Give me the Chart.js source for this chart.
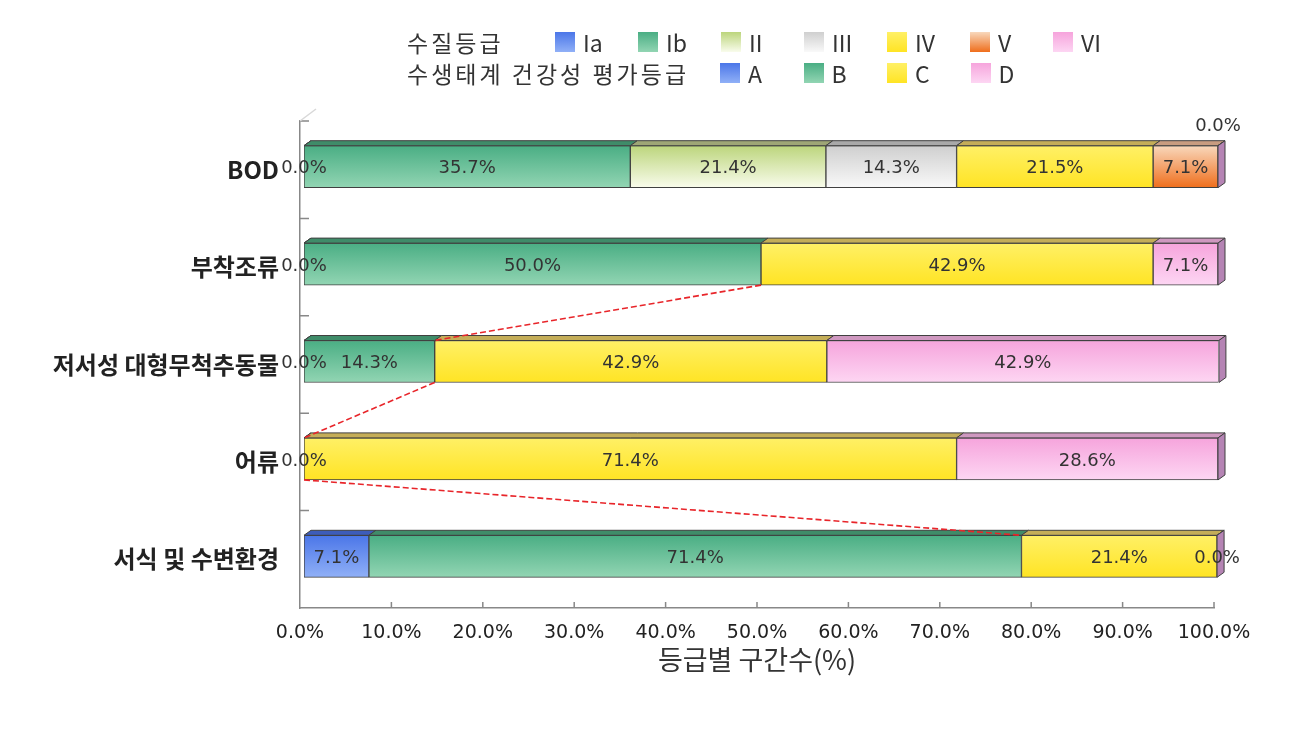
<!DOCTYPE html>
<html>
<head>
<meta charset="utf-8">
<script src="https://cdn.jsdelivr.net/npm/chart.js@4.4.1/dist/chart.umd.min.js"></script>
<style>
  body { margin: 0; background: #fff; }
  #wrap { position: relative; width: 1310px; height: 731px; }
  #myChart { position: absolute; left: 0; top: 0; }
  .lg { position: absolute; font-family: "Noto Sans CJK KR", sans-serif; font-size: 23px; color: #333; line-height: 24px; white-space: nowrap; }
  .lg.head { letter-spacing: 3px; }
  .sw { position: absolute; width: 20px; height: 20px; }
</style>
</head>
<body>
<div id="wrap">
  <canvas id="myChart" width="1310" height="731"></canvas>
  <div id="legend"></div>
</div>
<script>
// categories (rows, top to bottom)
var categories = ['BOD', '부착조류', '저서성 대형무척추동물', '어류', '서식 및 수변환경'];
// which grading the row uses: water quality grade or ecosystem health grade
var rowGroup = ['water', 'eco', 'eco', 'eco', 'eco'];

// share of sections per grade (%)
var gradeIaA = [0.0, 0.0, 0.0, 0.0, 7.1];
var gradeIbB = [35.7, 50.0, 14.3, null, 71.4];
var gradeII = [21.4, null, null, null, null];
var gradeIII = [14.3, null, null, null, null];
var gradeIVC = [21.5, 42.9, 42.9, 71.4, 21.4];
var gradeV = [7.1, null, null, null, null];
var gradeVID = [0.0, 7.1, 42.9, 28.6, 0.0];

var seriesNames = ['Ia / A', 'Ib / B', 'II', 'III', 'IV / C', 'V', 'VI / D'];
var waterLegend = ['Ia', 'Ib', 'II', 'III', 'IV', 'V', 'VI'];
var ecoLegend = ['A', 'B', 'C', 'D'];
var ecoSeries = [0, 1, 4, 6];   // series index used by A, B, C, D
var xTicks = [0, 10, 20, 30, 40, 50, 60, 70, 80, 90, 100];

// colours
var faceTop = ['#4b76e8', '#4aae84', '#bcd57c', '#cfcfcf', '#fff066', '#f8d8bc', '#f6a4dc'];
var faceBottom = ['#90b0f7', '#92d5b3', '#f9fcec', '#f9f9f9', '#ffe424', '#ef6e1c', '#fdd6f3'];
var lidColor = ['#3d5cb9', '#3f8c69', '#9ea676', '#a9a9a9', '#c4ad58', '#c89c80', '#cf98c0'];
var sideColor = ['#3550a8', '#357858', '#8c9868', '#9a9a9a', '#c0a848', '#b07050', '#b584b4'];

var BAR = 42, DX = 7, DY = 5, SHIFT_X = 4, SHIFT_Y = -3;

// legend (html)
function addLegend() {
    var lg = document.getElementById('legend');
    var html = '';
    html += '<div class="lg head" style="left:407px;top:30px">수질등급</div>';
    html += '<div class="lg head" style="left:407px;top:61px">수생태계 건강성 평가등급</div>';
    function item(i, x, top, text) {
        return '<div class="sw" style="left:' + x + 'px;top:' + (top + 2) + 'px;background:linear-gradient(' +
            faceTop[i] + ',' + faceBottom[i] + ')"></div>' +
            '<div class="lg" style="left:' + (x + 28) + 'px;top:' + top + 'px">' + text + '</div>';
    }
    for (var i = 0; i < waterLegend.length; i++) {
        html += item(i, 555 + i * 83, 30, waterLegend[i]);
    }
    for (var j = 0; j < ecoLegend.length; j++) {
        html += item(ecoSeries[j], 720 + j * 83.5, 61, ecoLegend[j]);
    }
    lg.innerHTML = html;
}
addLegend();

function faceFill(i) {
    return function (c) {
        var ys = c.chart.scales.y;
        if (!ys || c.dataIndex === undefined) return faceBottom[i];
        var yc = ys.getPixelForValue(c.dataIndex);
        if (!isFinite(yc)) return faceBottom[i];
        var g = c.chart.ctx.createLinearGradient(0, yc - BAR / 2, 0, yc + BAR / 2);
        g.addColorStop(0, faceTop[i]);
        g.addColorStop(1, faceBottom[i]);
        return g;
    };
}

var allSeries = [gradeIaA, gradeIbB, gradeII, gradeIII, gradeIVC, gradeV, gradeVID];
var datasets = [];
for (var i = 0; i < allSeries.length; i++) {
    datasets.push({
        label: seriesNames[i],
        data: allSeries[i],
        backgroundColor: faceFill(i),
        borderColor: '#404040',
        borderWidth: 1,
        borderSkipped: false,
        barThickness: BAR
    });
}

function fmt(v) { return v.toFixed(1) + '%'; }

// draws the 3d lids, side faces, series lines and value labels
var bar3d = {
    id: 'bar3d',
    beforeDatasetsDraw: function (chart) {
        chart.ctx.save();
        chart.ctx.translate(SHIFT_X, SHIFT_Y);
    },
    afterDatasetsDraw: function (chart) {
        var ctx = chart.ctx;
        var xs = chart.scales.x;
        ctx.lineWidth = 1;
        ctx.strokeStyle = '#404040';
        for (var r = 0; r < categories.length; r++) {
            var lastEnd = null, lastSeries = 0, top = 0, bottom = 0;
            for (var d = 0; d < datasets.length; d++) {
                var v = allSeries[d][r];
                if (v === null) continue;
                var el = chart.getDatasetMeta(d).data[r];
                top = el.y - BAR / 2;
                bottom = el.y + BAR / 2;
                ctx.beginPath();
                ctx.moveTo(el.base, top);
                ctx.lineTo(el.base + DX, top - DY);
                ctx.lineTo(el.x + DX, top - DY);
                ctx.lineTo(el.x, top);
                ctx.closePath();
                ctx.fillStyle = lidColor[d];
                ctx.fill();
                ctx.stroke();
                lastEnd = el.x;
                lastSeries = d;
            }
            if (lastEnd !== null) {
                ctx.beginPath();
                ctx.moveTo(lastEnd, top);
                ctx.lineTo(lastEnd + DX, top - DY);
                ctx.lineTo(lastEnd + DX, bottom - DY);
                ctx.lineTo(lastEnd, bottom);
                ctx.closePath();
                ctx.fillStyle = sideColor[lastSeries];
                ctx.fill();
                ctx.stroke();
            }
        }

        // series lines at the end of the B grade, between rows of the eco group
        ctx.save();
        ctx.strokeStyle = '#e8252a';
        ctx.lineWidth = 1.6;
        ctx.setLineDash([6, 3]);
        for (var k = 0; k < categories.length - 1; k++) {
            if (rowGroup[k] !== 'eco' || rowGroup[k + 1] !== 'eco') continue;
            var e1 = (gradeIaA[k] || 0) + (gradeIbB[k] || 0);
            var e2 = (gradeIaA[k + 1] || 0) + (gradeIbB[k + 1] || 0);
            var y1 = chart.scales.y.getPixelForValue(k) + BAR / 2;
            var y2 = chart.scales.y.getPixelForValue(k + 1) - BAR / 2;
            ctx.beginPath();
            ctx.moveTo(xs.getPixelForValue(e1), y1);
            ctx.lineTo(xs.getPixelForValue(e2), y2);
            ctx.stroke();
        }
        ctx.restore();

        // value labels
        var lift = chart.options.plugins.bar3d.lift;
        ctx.font = '18px "DejaVu Sans", sans-serif';
        ctx.fillStyle = '#333';
        ctx.textAlign = 'center';
        ctx.textBaseline = 'middle';
        for (var d2 = 0; d2 < datasets.length; d2++) {
            for (var r2 = 0; r2 < categories.length; r2++) {
                var v2 = allSeries[d2][r2];
                if (v2 === null) continue;
                var el2 = chart.getDatasetMeta(d2).data[r2];
                var off = lift[d2 + '-' + r2] || [0, 0];
                ctx.fillText(fmt(v2), (el2.base + el2.x) / 2 + off[0], el2.y + 2 + off[1]);
            }
        }
        ctx.restore();
    },
    afterDraw: function (chart) {
        var ctx = chart.ctx;
        var a = chart.chartArea;
        var ys = chart.scales.y, xs = chart.scales.x;
        ctx.save();
        ctx.strokeStyle = '#888';
        ctx.lineWidth = 1.5;
        ctx.beginPath();
        // inner tick marks on the category axis
        for (var i = 0; i <= categories.length - 1; i++) {
            var yb = i === 0 ? a.top : (ys.getPixelForValue(i - 1) + ys.getPixelForValue(i)) / 2;
            ctx.moveTo(a.left, yb);
            ctx.lineTo(a.left + 9, yb);
        }
        // inner tick marks on the value axis
        for (var t = 1; t < xTicks.length; t++) {
            var xp = xs.getPixelForValue(xTicks[t]);
            ctx.moveTo(xp, a.bottom);
            ctx.lineTo(xp, a.bottom - 6);
        }
        ctx.stroke();
        ctx.strokeStyle = '#d8d8d8';
        ctx.beginPath();
        ctx.moveTo(a.left, a.top);
        ctx.lineTo(a.left + 16, a.top - 12);
        ctx.stroke();
        ctx.restore();
    }
};

var myChart = new Chart(document.getElementById('myChart'), {
    type: 'bar',
    data: { labels: categories, datasets: datasets },
    options: {
        indexAxis: 'y',
        responsive: false,
        animation: false,
        layout: { padding: { top: 121, right: 96, left: 0, bottom: 0 } },
        plugins: {
            legend: { display: false },
            tooltip: { enabled: false },
            bar3d: { lift: { '6-0': [0, -42] } }
        },
        scales: {
            x: {
                stacked: true,
                min: 0,
                max: 100,
                afterBuildTicks: function (s) {
                    s.ticks = xTicks.map(function (v) { return { value: v }; });
                },
                afterFit: function (s) { s.height = 123; },
                grid: { display: false, drawTicks: false },
                border: { display: true, color: '#888', width: 1.5 },
                ticks: {
                    padding: 14,
                    color: '#222',
                    font: { family: '"DejaVu Sans", sans-serif', size: 19 },
                    callback: function (v) { return fmt(v); }
                },
                title: {
                    display: true,
                    text: '등급별 구간수(%)',
                    color: '#333',
                    font: { family: '"Noto Sans CJK KR", sans-serif', size: 27 },
                    padding: { top: 0, bottom: 55 }
                }
            },
            y: {
                stacked: true,
                afterFit: function (s) { s.width = 300; },
                grid: { display: false, drawTicks: false },
                border: { display: true, color: '#888', width: 1.5 },
                ticks: {
                    padding: 21,
                    color: '#222',
                    font: { family: '"Noto Sans CJK KR", sans-serif', size: 24, weight: 'bold' }
                }
            }
        }
    },
    plugins: [bar3d]
});
</script>
</body>
</html>
